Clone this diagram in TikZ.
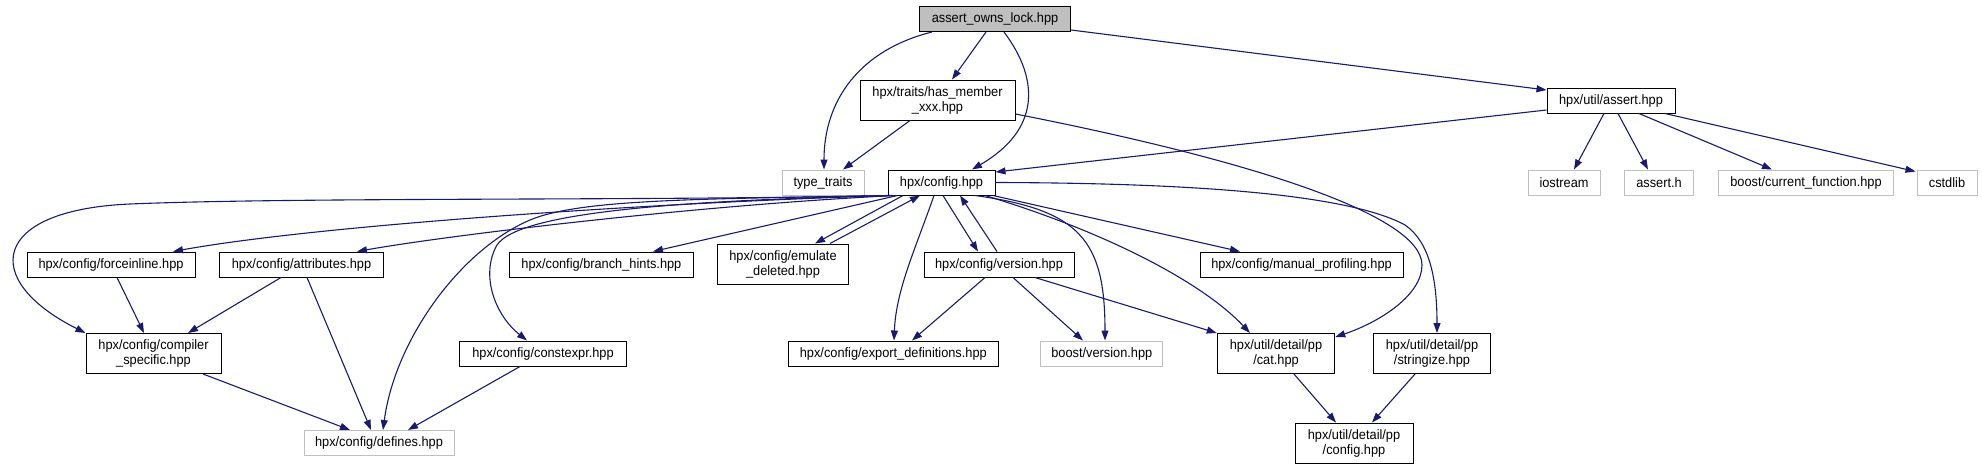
\documentclass[tikz,border=0pt]{standalone}
\usepackage{fontspec}
\setmainfont{Liberation Sans}[FakeStretch=0.94]
\usetikzlibrary{arrows.meta,calc}
\definecolor{edgecol}{RGB}{25,25,112}
\definecolor{extcol}{RGB}{191,191,191}
\definecolor{rootfill}{RGB}{191,191,191}
\begin{document}
\begin{tikzpicture}[x=1pt,y=-1pt,
  box/.style={draw=black,line width=1pt,inner sep=0pt,minimum height=25pt,
    font=\fontsize{13.6pt}{15pt}\selectfont,align=center},
  extbox/.style={box,draw=extcol},
  rootbox/.style={box,fill=rootfill},
  tall/.style={minimum height=40pt},
  dep/.style={draw=edgecol,line width=1.1pt,-{Triangle[length=10pt,width=7pt]}}
]
\useasboundingbox (0,0) rectangle (1982,469);
% nodes
\node[rootbox,minimum width=151pt] (root) at (995,19) {assert\_owns\_lock.hpp};
\node[box,tall,minimum width=155pt] (hasm) at (937.5,100) {hpx/traits/has\_member\\\_xxx.hpp};
\node[extbox,minimum width=82pt] (tt) at (823,182.5) {type\_traits};
\node[box,minimum width=107pt] (cfg) at (941.5,182.5) {hpx/config.hpp};
\node[box,minimum width=128pt] (ast) at (1611,100.5) {hpx/util/assert.hpp};
\node[extbox,minimum width=72pt] (ios) at (1564,182.5) {iostream};
\node[extbox,minimum width=69pt] (ash) at (1659,182.5) {assert.h};
\node[extbox,minimum width=174.5pt] (cf) at (1806,182.5) {boost/current\_function.hpp};
\node[extbox,minimum width=60pt] (csl) at (1947,182.5) {cstdlib};
\node[box,minimum width=168pt] (fi) at (111,264.5) {hpx/config/forceinline.hpp};
\node[box,minimum width=164pt] (attr) at (301.5,264.5) {hpx/config/attributes.hpp};
\node[box,minimum width=184pt] (bh) at (601.4,264.5) {hpx/config/branch\_hints.hpp};
\node[box,tall,minimum width=131pt] (emu) at (783,264) {hpx/config/emulate\\\_deleted.hpp};
\node[box,minimum width=150pt] (ver) at (999,264.5) {hpx/config/version.hpp};
\node[box,minimum width=203pt] (mp) at (1301.5,264.5) {hpx/config/manual\_profiling.hpp};
\node[box,tall,minimum width=135pt] (cs) at (153.5,353.5) {hpx/config/compiler\\\_specific.hpp};
\node[box,minimum width=167pt] (ce) at (543,353.5) {hpx/config/constexpr.hpp};
\node[box,minimum width=210.6pt] (ed) at (893.3,353.5) {hpx/config/export\_definitions.hpp};
\node[extbox,minimum width=122.3pt] (bv) at (1101.8,353.5) {boost/version.hpp};
\node[box,tall,minimum width=117.5pt] (cat) at (1276,353.5) {hpx/util/detail/pp\\/cat.hpp};
\node[box,tall,minimum width=117.5pt] (str) at (1432,353.5) {hpx/util/detail/pp\\/stringize.hpp};
\node[extbox,minimum width=150pt] (def) at (379,443) {hpx/config/defines.hpp};
\node[box,tall,minimum width=118pt] (ppc) at (1354,443) {hpx/util/detail/pp\\/config.hpp};
% edges from root
\draw[dep] ($(root.south)+(-63,0)$) .. controls (860,50) and (824,100) .. ($(tt.north)+(1,0)$);
\draw[dep] ($(root.south)+(-9,0)$) -- ($(hasm.north)+(14.5,0)$);
\draw[dep] ($(root.south)+(9,0)$) .. controls (1040,80) and (1040,130) .. ($(cfg.north)+(30.5,0)$);
\draw[dep] ($(root.east)+(0,11)$) -- ($(ast.west)+(0,-10.5)$);
% has_member
\draw[dep] ($(hasm.south)+(-27.5,0)$) -- ($(tt.north)+(20,0)$);
\draw[dep] ($(hasm.east)+(0,14)$) .. controls (1250,160) and (1422,215) .. (1422,265)
   .. controls (1422,295) and (1380,322) .. ($(cat.north east)+(0,4)$);
% assert.hpp
\draw[dep] ($(ast.west)+(0,9.5)$) -- ($(cfg.east)+(0,-10.5)$);
\draw[dep] ($(ast.south)+(-7,0)$) -- ($(ios.north)+(10,0)$);
\draw[dep] ($(ast.south)+(7,0)$) -- ($(ash.north)+(-11,0)$);
\draw[dep] ($(ast.south)+(28,0)$) -- ($(cf.north)+(-34,0)$);
\draw[dep] ($(ast.south)+(54,0)$) -- ($(csl.north west)+(-1,2)$);
% config outgoing (left)
\draw[dep] (cfg.south west) .. controls (650,201) and (300,197) .. (130,204)
   .. controls (-10,210) and (-20,280) .. (cs.north west);
\draw[dep] ($(cfg.south west)+(2,0)$) .. controls (650,203) and (320,225) .. ($(fi.north)+(62,0)$);
\draw[dep] ($(cfg.south west)+(4,0)$) .. controls (700,199) and (580,199) .. (530,220)
   .. controls (460,250) and (395,340) .. ($(def.north)+(4,0)$);
\draw[dep] ($(cfg.south west)+(6,0)$) .. controls (700,200) and (520,210) .. (497,245)
   .. controls (480,275) and (495,315) .. ($(ce.north)+(-16,0)$);
\draw[dep] ($(cfg.south west)+(8,0)$) .. controls (700,205) and (450,235) .. ($(attr.north)+(55.5,0)$);
\draw[dep] ($(cfg.south west)+(10,0)$) -- ($(bh.north)+(51.6,0)$);
% config outgoing (down / right)
\draw[dep] ($(cfg.south)+(-38.5,0)$) -- ($(emu.north)+(32,0)$);
\draw[dep] ($(emu.north)+(47,0)$) -- ($(cfg.south)+(-21.5,0)$);
\draw[dep] ($(cfg.south)+(-7.5,0)$) .. controls (915,250) and (896,290) .. ($(ed.north)+(0.7,0)$);
\draw[dep] ($(cfg.south)+(1.5,0)$) -- ($(ver.north)+(-21,0)$);
\draw[dep] ($(ver.north)+(-2,0)$) -- ($(cfg.south)+(18.5,0)$);
\draw[dep] ($(cfg.south)+(33.5,0)$) .. controls (1080,210) and (1105,240) .. ($(bv.north)+(3.2,0)$);
\draw[dep] ($(cfg.south)+(43.5,0)$) .. controls (1100,230) and (1200,280) .. ($(cat.north)+(-26,0)$);
\draw[dep] ($(cfg.south)+(51.5,0)$) -- ($(mp.north)+(-61.5,0)$);
\draw[dep] (cfg.east) .. controls (1200,183) and (1350,195) .. (1405,225)
   .. controls (1430,242) and (1437,280) .. ($(str.north)+(5,0)$);
% lower level
\draw[dep] ($(fi.south)+(6,0)$) -- ($(cs.north)+(-9.5,0)$);
\draw[dep] ($(attr.south)+(-20.5,0)$) -- ($(cs.north)+(34.5,0)$);
\draw[dep] ($(attr.south)+(5.5,0)$) -- ($(def.north)+(-8,0)$);
\draw[dep] ($(cs.south)+(49.5,0)$) -- ($(def.north)+(-29,0)$);
\draw[dep] ($(ce.south)+(-23,0)$) -- ($(def.north)+(29,0)$);
\draw[dep] ($(ver.south)+(-14,0)$) -- ($(ed.north)+(18.7,0)$);
\draw[dep] ($(ver.south)+(14,0)$) -- ($(bv.north)+(-18.8,0)$);
\draw[dep] ($(ver.south)+(36,0)$) -- (cat.north west);
\draw[dep] ($(cat.south)+(18,0)$) -- ($(ppc.north)+(-18,0)$);
\draw[dep] ($(str.south)+(-17,0)$) -- ($(ppc.north)+(18,0)$);
\end{tikzpicture}
\end{document}
